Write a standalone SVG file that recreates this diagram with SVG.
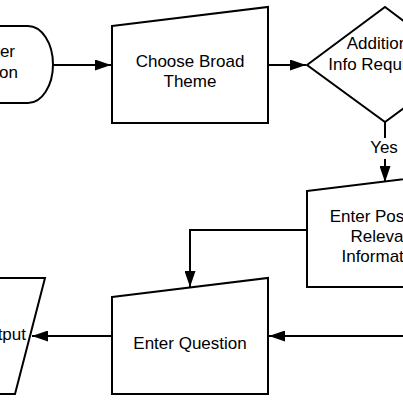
<svg xmlns="http://www.w3.org/2000/svg" width="403" height="403" viewBox="0 0 403 403">
  <defs>
    <marker id="arrow" markerUnits="userSpaceOnUse" markerWidth="17" markerHeight="11" refX="16" refY="5.5" orient="auto">
      <path d="M0,0 L16,5.5 L0,11 Z" fill="#000"/>
    </marker>
    <style>
      .shape { fill: #fff; stroke: #000; stroke-width: 2; stroke-linejoin: miter; }
      .edge { fill: none; stroke: #000; stroke-width: 2; }
      .lbl { font-family: "Liberation Sans", Arial, sans-serif; font-size: 17px; fill: #000; }
    </style>
  </defs>
  <rect x="0" y="0" width="403" height="403" fill="#fff"/>

  <g id="connectors">
    <path class="edge" d="M53,65 H111" marker-end="url(#arrow)"/>
    <path class="edge" d="M268,65 H306" marker-end="url(#arrow)"/>
    <path class="edge" d="M385,122 V182" marker-end="url(#arrow)"/>
    <path class="edge" d="M307,230 H190 V287" marker-end="url(#arrow)"/>
    <path class="edge" d="M410,336 H269" marker-end="url(#arrow)"/>
    <path class="edge" d="M112,336 H32" marker-end="url(#arrow)"/>
    <g id="label-yes">
      <rect x="368" y="138" width="32" height="21" fill="#fff"/>
      <text class="lbl" x="384" y="153" text-anchor="middle">Yes</text>
    </g>
  </g>

  <g id="node-start">
    <path class="shape" d="M-120,26 H28 A25,38.5 0 0 1 28,103 H-120 Z"/>
    <text class="lbl" x="15" y="57" text-anchor="end">Enter</text>
    <text class="lbl" x="18" y="78" text-anchor="end">Session</text>
  </g>

  <g id="node-theme">
    <path class="shape" d="M112,26 L268,7 L268,123 L112,123 Z"/>
    <text class="lbl" x="190" y="67" text-anchor="middle">Choose Broad</text>
    <text class="lbl" x="190" y="87" text-anchor="middle">Theme</text>
  </g>

  <g id="node-decision">
    <path class="shape" d="M307,65 L385,7 L463,65 L385,122 Z"/>
    <text class="lbl" x="384" y="49" text-anchor="middle">Additional</text>
    <text class="lbl" x="384" y="70" text-anchor="middle">Info Required?</text>
  </g>

  <g id="node-info">
    <path class="shape" d="M307,191 L463,172 L463,287 L307,287 Z"/>
    <text class="lbl" x="384" y="222" text-anchor="middle">Enter Possibly</text>
    <text class="lbl" x="384" y="242" text-anchor="middle">Relevant</text>
    <text class="lbl" x="384" y="262" text-anchor="middle">Information</text>
  </g>

  <g id="node-question">
    <path class="shape" d="M112,297 L268,278 L268,394 L112,394 Z"/>
    <text class="lbl" x="190" y="349" text-anchor="middle">Enter Question</text>
  </g>

  <g id="node-output">
    <path class="shape" d="M-110,278 L45,278 L15,394 L-140,394 Z"/>
    <text class="lbl" x="26" y="340" text-anchor="end">Output</text>
  </g>
</svg>
